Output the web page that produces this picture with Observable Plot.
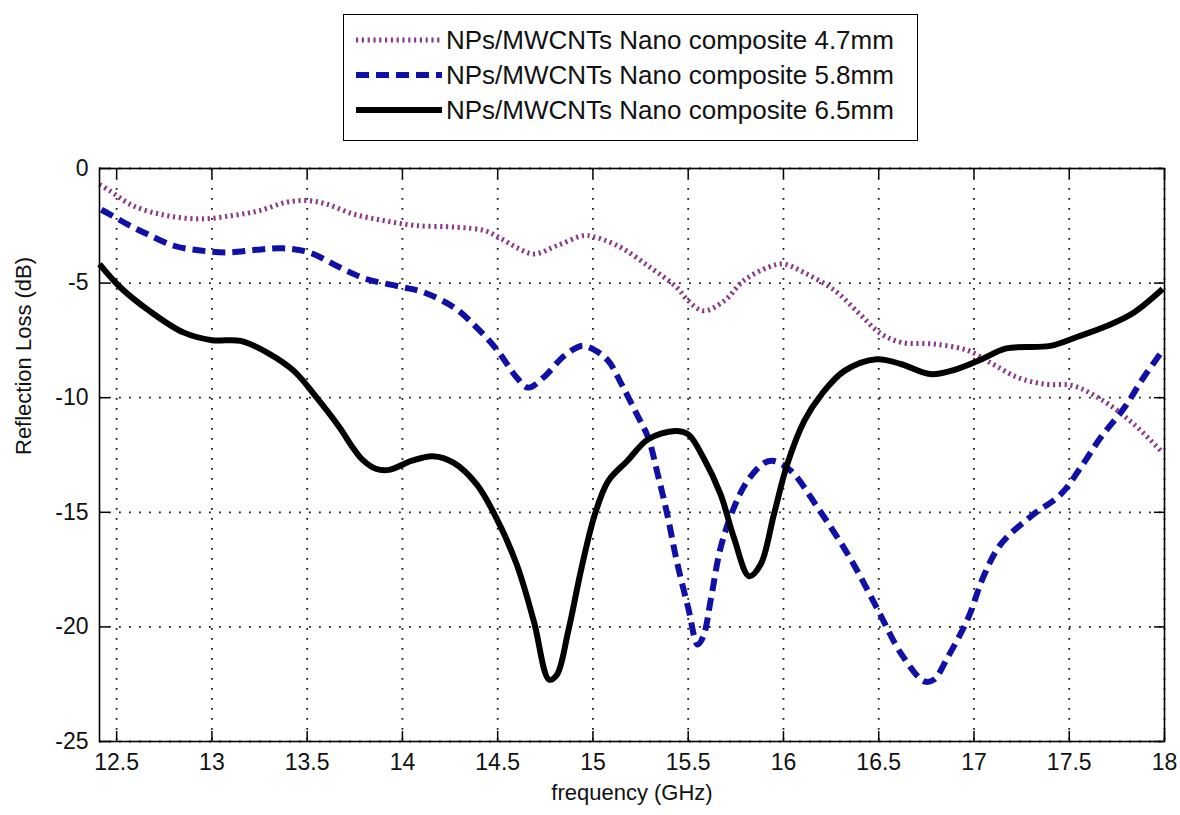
<!DOCTYPE html>
<html>
<head>
<meta charset="utf-8">
<script src="https://cdn.jsdelivr.net/npm/d3@7"></script>
<script src="https://cdn.jsdelivr.net/npm/@observablehq/plot@0.6"></script>
<style>
  body { margin: 0; background: #fff; }
  #wrap { position: relative; width: 1180px; height: 815px; font-family: "Liberation Sans", Arial, sans-serif; }
  #legend { position: absolute; left: 343px; top: 14px; width: 575px; height: 127px; border: 1.5px solid #000; background: #fff; box-sizing: border-box; }
  #legend .row { position: absolute; left: 0; height: 34px; display: flex; align-items: center; font-size: 26px; color: #111; white-space: nowrap; }
  #legend svg { display: block; margin-left: 12px; margin-right: 4px; }
</style>
</head>
<body>
<div id="wrap">
  <div id="chart"></div>
  <div id="legend"></div>
</div>
<script>
// Reflection loss (dB) versus frequency (GHz) for three absorber thicknesses

const freq47 = [12.41, 12.46, 12.585, 12.76, 12.94, 13.11, 13.25, 13.39, 13.5, 13.6, 13.74, 13.9, 14.07, 14.28, 14.43, 14.52, 14.6, 14.69, 14.81, 14.95, 15.0, 15.13, 15.3, 15.44, 15.5, 15.58, 15.69, 15.79, 15.92, 16.0, 16.11, 16.27, 16.4, 16.51, 16.62, 16.79, 16.97, 17.1, 17.23, 17.37, 17.52, 17.68, 17.84, 17.99];
const loss47 = [-0.7, -0.95, -1.62, -2.05, -2.2, -2.05, -1.84, -1.47, -1.4, -1.55, -1.98, -2.27, -2.49, -2.56, -2.71, -3.07, -3.45, -3.73, -3.37, -2.93, -2.97, -3.37, -4.31, -5.19, -5.77, -6.21, -5.77, -4.9, -4.31, -4.17, -4.55, -5.33, -6.35, -7.2, -7.59, -7.66, -7.95, -8.54, -9.12, -9.41, -9.48, -10.14, -11.16, -12.4];

const freq58 = [12.42, 12.46, 12.56, 12.66, 12.8, 12.94, 13.08, 13.23, 13.37, 13.51, 13.67, 13.81, 13.99, 14.11, 14.27, 14.39, 14.5, 14.6, 14.66, 14.74, 14.85, 14.94, 15.0, 15.08, 15.15, 15.23, 15.29, 15.34, 15.39, 15.44, 15.5, 15.55, 15.58, 15.62, 15.67, 15.74, 15.81, 15.9, 15.95, 16.04, 16.18, 16.35, 16.49, 16.62, 16.74, 16.79, 16.86, 16.97, 17.05, 17.14, 17.3, 17.455, 17.56, 17.665, 17.79, 17.89, 17.99];
const loss58 = [-1.8, -1.98, -2.45, -2.86, -3.37, -3.58, -3.66, -3.55, -3.48, -3.66, -4.31, -4.82, -5.16, -5.4, -6.06, -6.94, -7.95, -9.12, -9.56, -9.12, -8.17, -7.74, -7.88, -8.39, -9.41, -10.72, -11.74, -13.34, -15.09, -17.13, -19.17, -20.77, -20.4, -18.74, -16.55, -14.8, -13.64, -12.84, -12.76, -13.2, -14.8, -17.0, -19.17, -21.2, -22.38, -22.3, -21.36, -19.6, -17.8, -16.4, -15.17, -14.22, -13.05, -11.74, -10.43, -9.12, -7.95];

const freq65 = [12.41, 12.52, 12.67, 12.85, 13.0, 13.15, 13.29, 13.43, 13.55, 13.67, 13.74, 13.79, 13.86, 13.93, 14.05, 14.16, 14.27, 14.39, 14.49, 14.6, 14.69, 14.77, 14.81, 14.87, 14.94, 15.01, 15.08, 15.18, 15.29, 15.43, 15.5, 15.58, 15.67, 15.74, 15.82, 15.88, 15.95, 16.02, 16.11, 16.2, 16.32, 16.49, 16.62, 16.77, 16.91, 17.04, 17.17, 17.4, 17.54, 17.7, 17.84, 17.99];
const loss65 = [-4.17, -5.19, -6.2, -7.15, -7.49, -7.52, -8.03, -8.83, -10.0, -11.3, -12.18, -12.7, -13.1, -13.15, -12.75, -12.55, -12.84, -13.78, -15.2, -17.28, -19.76, -22.3, -22.1, -20.2, -17.43, -15.09, -13.64, -12.76, -11.81, -11.45, -11.6, -12.62, -14.22, -16.11, -17.79, -17.28, -15.09, -12.9, -11.0, -9.85, -8.83, -8.32, -8.54, -8.97, -8.75, -8.32, -7.85, -7.74, -7.35, -6.86, -6.28, -5.26];

const seriesNames = [
  "NPs/MWCNTs Nano composite 4.7mm",
  "NPs/MWCNTs Nano composite 5.8mm",
  "NPs/MWCNTs Nano composite 6.5mm"
];

const xTicks = [12.5, 13, 13.5, 14, 14.5, 15, 15.5, 16, 16.5, 17, 17.5, 18];
const yTicks = [0, -5, -10, -15, -20, -25];

const styles = [
  { stroke: "#8a3a86", strokeWidth: 5, strokeDasharray: "2.2,3.6" },
  { stroke: "#1010a6", strokeWidth: 6, strokeDasharray: "13,7" },
  { stroke: "#000000", strokeWidth: 6, strokeDasharray: null }
];

const toRows = (fs, ls) => fs.map((f, i) => ({ f, loss: ls[i] }));
const series = [toRows(freq47, loss47), toRows(freq58, loss58), toRows(freq65, loss65)];

const W = 1180, H = 815;
const mL = 99, mR = 16, mT = 168, mB = 74;
const innerW = W - mL - mR, innerH = H - mT - mB;
const tick = 10;
const gridStyle = { stroke: "#000", strokeOpacity: 0.9, strokeWidth: 1.8, strokeDasharray: "1.8,8.2" };

const chart = Plot.plot({
  width: W,
  height: H,
  marginLeft: mL,
  marginRight: mR,
  marginTop: mT,
  marginBottom: mB,
  style: { fontFamily: "'Liberation Sans', Arial, sans-serif", fontSize: "23px", color: "#111", background: "#fff", overflow: "visible" },
  x: { domain: [12.41, 18] },
  y: { domain: [-25, 0] },
  marks: [
    Plot.gridX(xTicks, gridStyle),
    Plot.gridY(yTicks, gridStyle),
    // inward tick marks on all four sides
    Plot.ruleX(xTicks, { x: d => d, insetTop: innerH - tick, stroke: "#000", strokeWidth: 1.5 }),
    Plot.ruleX(xTicks, { x: d => d, insetBottom: innerH - tick, stroke: "#000", strokeWidth: 1.5 }),
    Plot.ruleY(yTicks, { y: d => d, insetRight: innerW - tick, stroke: "#000", strokeWidth: 1.5 }),
    Plot.ruleY(yTicks, { y: d => d, insetLeft: innerW - tick, stroke: "#000", strokeWidth: 1.5 }),
    Plot.axisX(xTicks, { tickSize: 0, tickPadding: 12, label: null, fontSize: 23, tickFormat: d => `${d}` }),
    Plot.axisY(yTicks, { tickSize: 0, tickPadding: 11, label: null, fontSize: 23, tickFormat: d => `${d}` }),
    ...series.map((d, i) => Plot.line(d, {
      x: "f", y: "loss", curve: "catmull-rom",
      stroke: styles[i].stroke, strokeWidth: styles[i].strokeWidth,
      strokeDasharray: styles[i].strokeDasharray, strokeLinecap: "butt", strokeLinejoin: "round"
    })),
    Plot.frame({ stroke: "#000", strokeWidth: 1.6 }),
    Plot.text(["frequency (GHz)"], { frameAnchor: "bottom", dy: 58, fontSize: 22, fill: "#111" }),
    Plot.text(["Reflection Loss (dB)"], { frameAnchor: "left", dx: -76, rotate: -90, fontSize: 22, fill: "#111" })
  ]
});
document.getElementById("chart").appendChild(chart);

// legend box
const legend = document.getElementById("legend");
const rowTops = [8, 43, 78];
seriesNames.forEach((name, i) => {
  const row = document.createElement("div");
  row.className = "row";
  row.style.top = rowTops[i] + "px";
  const ns = "http://www.w3.org/2000/svg";
  const svg = document.createElementNS(ns, "svg");
  svg.setAttribute("width", 86);
  svg.setAttribute("height", 20);
  const ln = document.createElementNS(ns, "line");
  ln.setAttribute("x1", 0); ln.setAttribute("x2", 86);
  ln.setAttribute("y1", 10); ln.setAttribute("y2", 10);
  ln.setAttribute("stroke", styles[i].stroke);
  ln.setAttribute("stroke-width", styles[i].strokeWidth);
  if (styles[i].strokeDasharray) ln.setAttribute("stroke-dasharray", styles[i].strokeDasharray);
  svg.appendChild(ln);
  row.appendChild(svg);
  const span = document.createElement("span");
  span.textContent = name;
  row.appendChild(span);
  legend.appendChild(row);
});
</script>
</body>
</html>
